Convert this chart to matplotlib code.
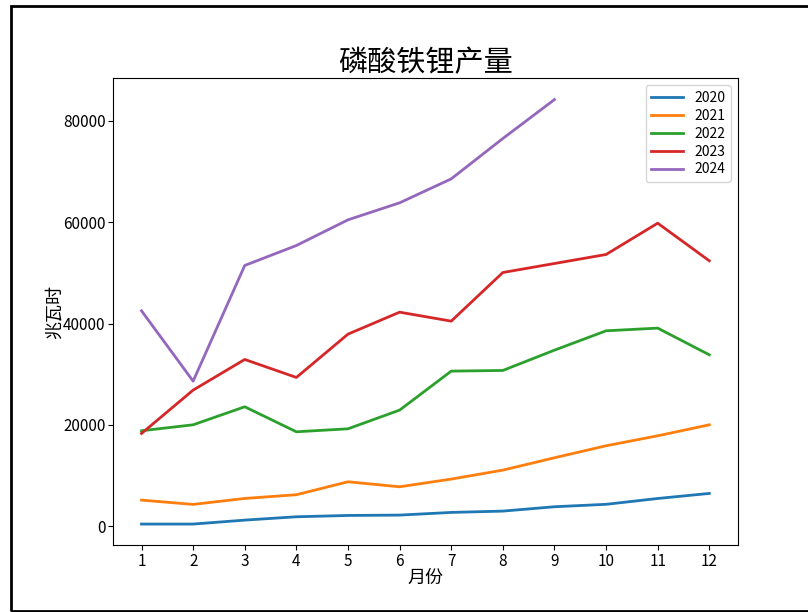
import matplotlib
matplotlib.use("Agg")
import matplotlib.pyplot as plt
from matplotlib.patches import Rectangle

plt.rcParams['font.family'] = ['Noto Sans CJK SC', 'DejaVu Sans']
plt.rcParams['axes.unicode_minus'] = False

# 月份
months = list(range(1, 13))

# 各年磷酸铁锂产量 (兆瓦时)
y2020 = [400, 400, 1180, 1840, 2100, 2170, 2700, 2960, 3820, 4300, 5450, 6450]
y2021 = [5130, 4280, 5460, 6190, 8750, 7760, 9280, 11050, 13490, 15860, 17830, 20000]
y2022 = [18820, 20000, 23560, 18620, 19210, 22900, 30600, 30730, 34740, 38560, 39090, 33820]
y2023 = [18290, 26850, 32900, 29350, 37900, 42240, 40470, 50070, 51850, 53630, 59810, 52380]
y2024 = [42510, 28620, 51460, 55400, 60470, 63830, 68560, 76530, 84220]

years = ["2020", "2021", "2022", "2023", "2024"]
series = [y2020, y2021, y2022, y2023, y2024]

fig = plt.figure(figsize=(8.08, 6.12), dpi=100)
ax = fig.add_axes([0.14, 0.109, 0.773, 0.763])

for name, vals in zip(years, series):
    ax.plot(months[:len(vals)], vals, label=name, linewidth=2)

ax.set_xticks(months)
ax.tick_params(labelsize=11, pad=2)
ax.set_title("磷酸铁锂产量", fontsize=21, pad=2)
ax.set_xlabel("月份", fontsize=13, labelpad=-1)
ax.set_ylabel("兆瓦时", fontsize=13, labelpad=-1)
ax.legend(loc='upper right', fontsize=10, labelspacing=0.28, handlelength=2.3)

# 外框
fig.patches.append(Rectangle((0.013, 0.001), 1.0, 0.99, transform=fig.transFigure,
                             fill=False, edgecolor='black', linewidth=2))

fig.savefig("out.png", dpi=100)
